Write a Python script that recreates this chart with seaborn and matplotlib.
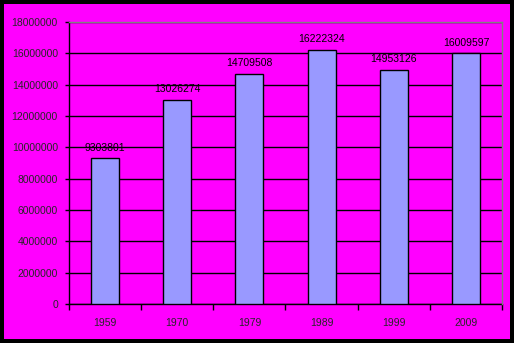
import matplotlib
matplotlib.use("Agg")
import matplotlib.pyplot as plt
import seaborn as sns
import pandas as pd
from matplotlib.patches import Rectangle
from matplotlib.ticker import FuncFormatter, MultipleLocator

years = ["1959", "1970", "1979", "1989", "1999", "2009"]
values = [9303801, 13026274, 14709508, 16222324, 14953126, 16009597]
labels = ["9303801", "13026274", "14709508", "16222324", "14953126", "16009597"]

sns.set_style("white")
plt.rcParams['font.family'] = ['Liberation Sans', 'DejaVu Sans']

W, H = 514, 343
fig = plt.figure(figsize=(W / 100, H / 100), dpi=100)
fig.patch.set_facecolor("black")
fig.add_artist(Rectangle((4 / W, 4 / H), (510 - 4) / W, (339 - 4) / H,
                         transform=fig.transFigure, facecolor="#FF00FF",
                         edgecolor="none", zorder=-10))

ax = fig.add_axes([69 / W, (H - 304) / H, (502 - 69) / W, (304 - 22) / H])
ax.set_facecolor("#FF00FF")

df = pd.DataFrame({"year": years, "value": values})
sns.barplot(data=df, x="year", y="value", ax=ax, color="#9999FF",
            width=0.39, edgecolor="black", linewidth=1, saturation=1, zorder=3)

ax.set_ylim(0, 18000000)
ax.set_xlim(-0.5, len(years) - 0.5)
ax.yaxis.set_major_locator(MultipleLocator(2000000))
ax.yaxis.set_major_formatter(FuncFormatter(lambda v, p: f"{int(v)}"))
ax.grid(axis="y", color="black", linewidth=1, zorder=0)
ax.set_axisbelow(True)
ax.set_xlabel("")
ax.set_ylabel("")

for s in ["top", "right"]:
    ax.spines[s].set_color("#808080")
    ax.spines[s].set_linewidth(1)
    ax.spines[s].set_zorder(5)
for s in ["left", "bottom"]:
    ax.spines[s].set_color("black")
    ax.spines[s].set_linewidth(1)

ax.tick_params(axis="y", which="major", length=3, width=1, color="black",
               labelsize=7.5, pad=5, left=True)
ax.tick_params(axis="x", which="major", length=0, labelsize=7.5, pad=10)
ax.set_xticks(range(len(years)))
ax.set_xticklabels(years)
ax.set_xticks([i - 0.5 for i in range(len(years) + 1)], minor=True)
ax.tick_params(axis="x", which="minor", length=4, width=1, color="black", bottom=True)

for i, (v, lab) in enumerate(zip(values, labels)):
    ax.annotate(lab, (i, v), xytext=(0, 4), textcoords="offset points",
                ha="center", va="bottom", fontsize=7.5, color="black")

fig.savefig("out.png", dpi=100, facecolor=fig.get_facecolor())
